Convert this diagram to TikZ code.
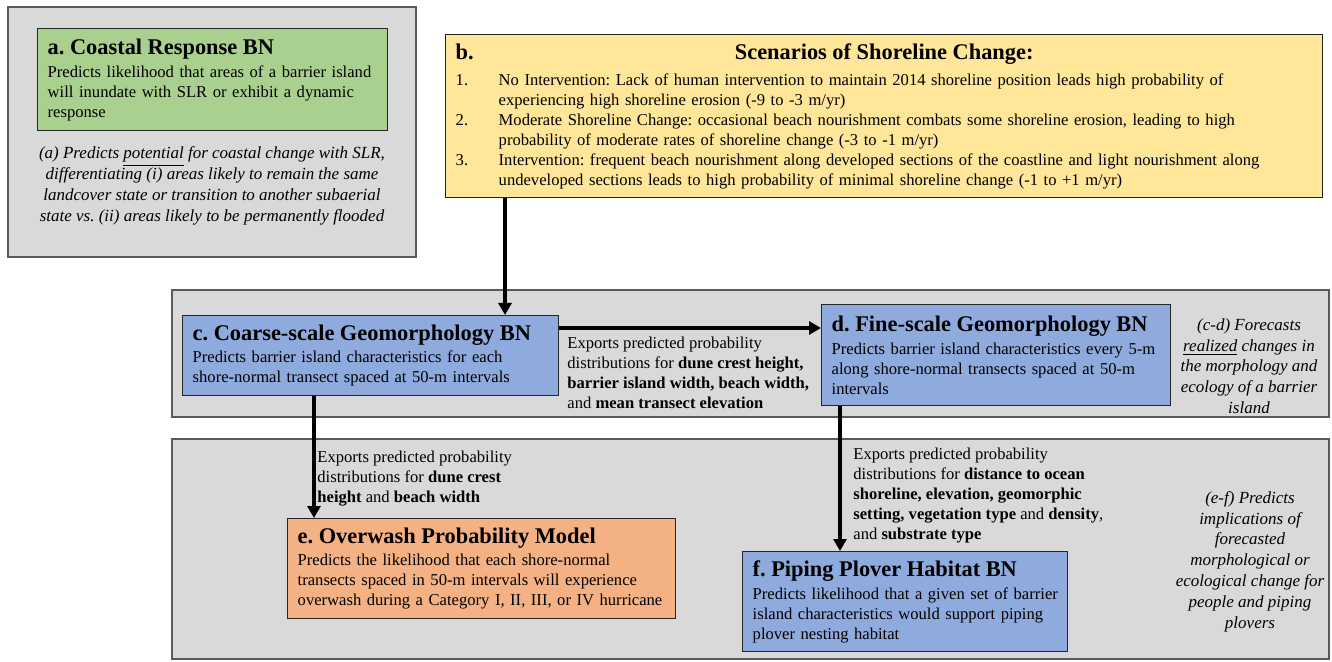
\documentclass[tikz,border=0pt]{standalone}
\usepackage{fontspec}
\setmainfont{Liberation Serif}
\usetikzlibrary{arrows.meta}
\definecolor{boxgreen}{rgb}{0.663,0.816,0.557}
\definecolor{boxyellow}{rgb}{1.,0.902,0.6}
\definecolor{boxblue}{rgb}{0.561,0.667,0.863}
\definecolor{boxorange}{rgb}{0.957,0.694,0.514}
\definecolor{panelgray}{rgb}{0.851,0.851,0.851}
\definecolor{edgegray}{rgb}{0.35,0.35,0.35}
\newcommand{\bodysize}{\fontsize{8.3}{10}\selectfont}
\newcommand{\headsize}{\fontsize{11.2}{12}\selectfont\bfseries}
\newcommand{\notesize}{\fontsize{8.5}{10.4}\selectfont\itshape}
\frenchspacing
\begin{document}
\begin{tikzpicture}[x=0.5pt,y=-0.5pt,
	panel/.style={draw=edgegray,fill=panelgray,line width=0.7pt},
	model/.style={draw=black!85,line width=0.7pt,anchor=north west,inner xsep=5pt,inner ysep=0pt,align=left,font=\bodysize},
	note/.style={align=center,font=\notesize,inner sep=0pt},
	export/.style={align=left,font=\bodysize,anchor=north west,inner sep=0pt},
	flow/.style={-{Triangle[width=6.5pt,length=6pt]},line width=2pt}]
	\useasboundingbox (0,0) rectangle (1332,662);
	\draw[panel] (8,7) rectangle (416,257);
	\draw[panel] (172,290) rectangle (1329,417);
	\draw[panel] (172,439) rectangle (1329,659);
	\node[model,fill=boxgreen,minimum width=175pt,minimum height=51pt,text width=165pt] (a) at (37,28) {{\headsize a. Coastal Response BN}\\[1.5pt]
		Predicts likelihood that areas of a barrier island\\ will inundate with SLR or exhibit a dynamic\\ response};
	\node[note] (anote) at (212,186) {(a) Predicts \underline{potential} for coastal change with SLR,\\ differentiating (i) areas likely to remain the same\\ landcover state or transition to another subaerial\\ state vs. (ii) areas likely to be permanently flooded};
	\node[model,fill=boxyellow,minimum width=438.5pt,minimum height=81.5pt,text width=428.5pt] (b) at (445,34) {{\headsize\rlap{b.}\makebox[428.5pt]{Scenarios of Shoreline Change:}}\\[3pt]
		\makebox[21.5pt][l]{1.}No Intervention: Lack of human intervention to maintain 2014 shoreline position leads high probability of\\
		\hspace*{21.5pt}experiencing high shoreline erosion (-9 to -3 m/yr)\\
		\makebox[21.5pt][l]{2.}Moderate Shoreline Change: occasional beach nourishment combats some shoreline erosion, leading to high\\
		\hspace*{21.5pt}probability of moderate rates of shoreline change (-3 to -1 m/yr)\\
		\makebox[21.5pt][l]{3.}Intervention: frequent beach nourishment along developed sections of the coastline and light nourishment along\\
		\hspace*{21.5pt}undeveloped sections leads to high probability of minimal shoreline change (-1 to +1 m/yr)};
	\node[model,fill=boxblue,minimum width=188pt,minimum height=40pt,text width=178pt] (c) at (182,315) {{\headsize c. Coarse-scale Geomorphology BN}\\[1pt]
		Predicts barrier island characteristics for each\\ shore-normal transect spaced at 50-m intervals};
	\node[model,fill=boxblue,minimum width=174.5pt,minimum height=50.5pt,text width=164.5pt] (d) at (821,304) {{\headsize d. Fine-scale Geomorphology BN}\\[1.5pt]
		Predicts barrier island characteristics every 5-m\\ along shore-normal transects spaced at 50-m\\ intervals};
	\node[note] (cdnote) at (1249,366) {(c-d) Forecasts\\ \underline{realized} changes in\\ the morphology and\\ ecology of a barrier\\ island};
	\node[export] (cdlabel) at (567,337) {Exports predicted probability\\ distributions for \textbf{dune crest height,}\\ \textbf{barrier island width, beach width,}\\ and \textbf{mean transect elevation}};
	\node[model,fill=boxorange,minimum width=194pt,minimum height=50pt,text width=184pt] (e) at (287,518) {{\headsize e. Overwash Probability Model}\\[1pt]
		Predicts the likelihood that each shore-normal\\ transects spaced in 50-m intervals will experience\\ overwash during a Category I, II, III, or IV hurricane};
	\node[model,fill=boxblue,minimum width=162.5pt,minimum height=50pt,text width=152.5pt] (f) at (742,551) {{\headsize f. Piping Plover Habitat BN}\\[1.5pt]
		\mbox{Predicts likelihood that a given set of barrier}\\ island characteristics would support piping\\ plover nesting habitat};
	\node[export] (celabel) at (317,451) {Exports predicted probability\\ distributions for \textbf{dune crest}\\ \textbf{height} and \textbf{beach width}};
	\node[export] (dflabel) at (853,448) {Exports predicted probability\\ distributions for \textbf{distance to ocean}\\ \textbf{shoreline, elevation, geomorphic}\\ \textbf{setting, vegetation type} and \textbf{density},\\ and \textbf{substrate type}};
	\node[note] (efnote) at (1250,561.5) {(e-f) Predicts\\ implications of\\ forecasted\\ morphological or\\ ecological change for\\ people and piping\\ plovers};
	\draw[flow] ([xshift=30pt]b.south west) -- ([xshift=30pt]b.south west |- c.north);
	\draw[flow] ([yshift=-6.5pt]c.north east) -- ([yshift=-6.5pt]c.north east -| d.west);
	\draw[flow] ([xshift=66pt]c.south west) -- ([xshift=66pt]c.south west |- e.north);
	\draw[flow] ([xshift=9.5pt]d.south west) -- ([xshift=9.5pt]d.south west |- f.north);
\end{tikzpicture}
\end{document}
